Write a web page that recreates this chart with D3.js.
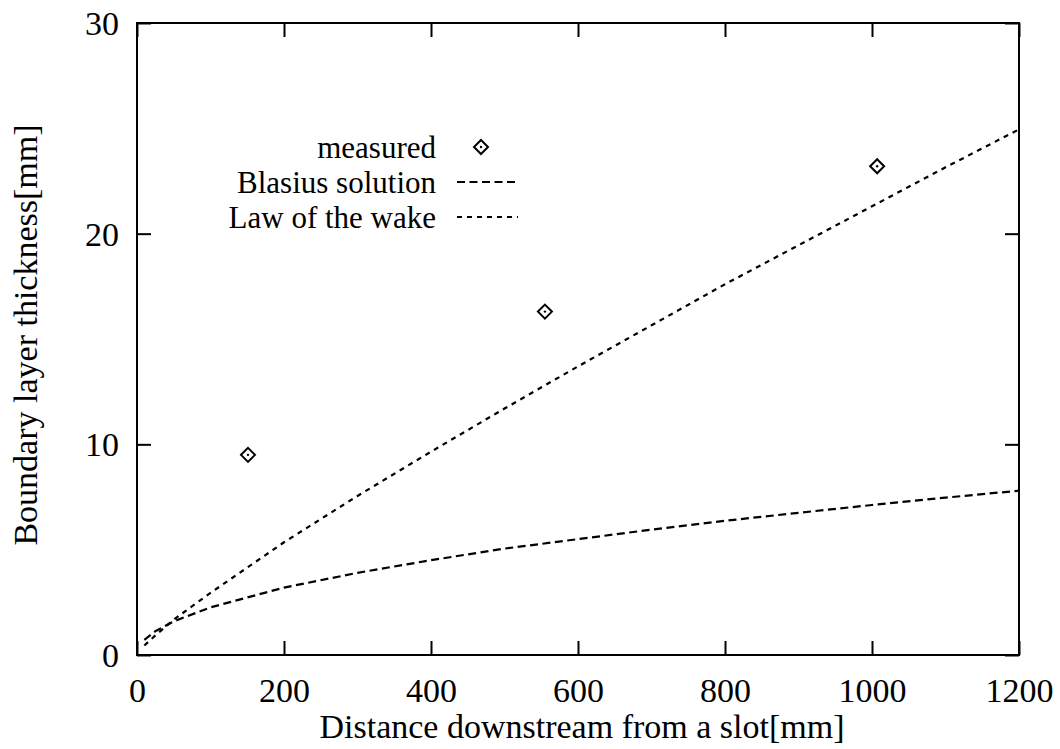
<!DOCTYPE html>
<html>
<head>
<meta charset="utf-8">
<script src="https://cdn.jsdelivr.net/npm/d3@7"></script>
<style>
  html, body { margin: 0; padding: 0; background: #fff; }
  svg, svg text { font-family: "Liberation Serif", "DejaVu Serif", serif !important; }
  svg text { fill: #000; }
</style>
</head>
<body>
<svg id="chart" width="1060" height="749"></svg>
<script>
// ---- data ----
const xTicks = [0, 200, 400, 600, 800, 1000, 1200];
const yTicks = [0, 10, 20, 30];

const measuredX = [151, 555, 1007];
const measuredY = [9.5, 16.3, 23.2];

const blasiusX = [10, 25, 50, 100, 200, 300, 400, 500, 600, 700, 800, 900, 1000, 1100, 1200];
const blasiusY = [0.72, 1.13, 1.6, 2.26, 3.2, 3.9, 4.5, 5.05, 5.5, 5.95, 6.37, 6.75, 7.12, 7.47, 7.8];

const wakeX = [10, 25, 50, 100, 200, 300, 400, 500, 600, 700, 800, 900, 1000, 1100, 1200];
const wakeY = [0.45, 0.93, 1.68, 2.95, 5.35, 7.55, 9.65, 11.7, 13.7, 15.65, 17.6, 19.45, 21.3, 23.15, 24.95];

const legendLabels = ["measured", "Blasius solution", "Law of the wake"];
const xTitle = "Distance downstream from a slot[mm]";
const yTitle = "Boundary layer thickness[mm]";

// ---- layout ----
const FONT = "'Liberation Serif', 'DejaVu Serif', serif";
const L = 137, R = 1019, T = 23, B = 655;
const svg = d3.select("#chart").style("font-family", FONT);
const x = d3.scaleLinear().domain([0, 1200]).range([L, R]);
const y = d3.scaleLinear().domain([0, 30]).range([B, T]);
const FS = 34, LFS = 31, TICK = 14;

// frame
svg.append("rect").attr("x", L).attr("y", T).attr("width", R - L).attr("height", B - T)
  .attr("fill", "none").attr("stroke", "#000").attr("stroke-width", 2);

// axes with inward ticks on all four sides
const axB = d3.axisBottom(x).tickValues(xTicks).tickSize(-TICK).tickFormat(d3.format("d"));
const axT = d3.axisTop(x).tickValues(xTicks).tickSize(-TICK).tickFormat("");
const axL = d3.axisLeft(y).tickValues(yTicks).tickSize(-TICK).tickFormat(d3.format("d"));
const axR = d3.axisRight(y).tickValues(yTicks).tickSize(-TICK).tickFormat("");

function styleAxis(g) {
  g.attr("font-family", null).attr("font-size", null);
  g.select(".domain").remove();
  g.selectAll(".tick line").attr("stroke", "#000").attr("stroke-width", 2);
  g.selectAll(".tick text").style("font-family", FONT).attr("font-size", FS).attr("fill", "#000");
}
svg.append("g").attr("transform", `translate(0,${B})`).call(axB).call(styleAxis)
  .selectAll(".tick text").attr("dy", null).attr("y", 47);
svg.append("g").attr("transform", `translate(0,${T})`).call(axT).call(styleAxis);
svg.append("g").attr("transform", `translate(${L},0)`).call(axL).call(styleAxis)
  .selectAll(".tick text").attr("x", -18).attr("dy", "0.34em");
svg.append("g").attr("transform", `translate(${R},0)`).call(axR).call(styleAxis);

// axis titles
svg.append("text").attr("x", (L + R) / 2 + 4).attr("y", 738).style("font-family", FONT)
  .attr("text-anchor", "middle").attr("font-size", FS).text(xTitle);
svg.append("text").attr("transform", `translate(37,${(T + B) / 2 - 4}) rotate(-90)`).style("font-family", FONT)
  .attr("text-anchor", "middle").attr("font-size", FS).text(yTitle);

// curves
const line = d3.line().x(d => x(d[0])).y(d => y(d[1]));
const blasius = blasiusX.map((v, i) => [v, blasiusY[i]]);
const wake = wakeX.map((v, i) => [v, wakeY[i]]);
svg.append("path").datum(blasius).attr("d", line).attr("fill", "none")
  .attr("stroke", "#000").attr("stroke-width", 2.2).attr("stroke-dasharray", "8,4.5");
svg.append("path").datum(wake).attr("d", line).attr("fill", "none")
  .attr("stroke", "#000").attr("stroke-width", 2.2).attr("stroke-dasharray", "5,5");

// diamond marker
function diamond(g, cx, cy) {
  const s = 7;
  g.append("path").attr("d", `M${cx},${cy - s}L${cx + s},${cy}L${cx},${cy + s}L${cx - s},${cy}Z`)
    .attr("fill", "none").attr("stroke", "#000").attr("stroke-width", 2);
  g.append("circle").attr("cx", cx).attr("cy", cy).attr("r", 1.2).attr("fill", "#000");
}
const pts = svg.append("g");
measuredX.forEach((v, i) => diamond(pts, x(v), y(measuredY[i])));

// legend
const legRight = 436, legRows = [147, 182, 217], sx0 = 457, sx1 = 518;
legendLabels.forEach((t, i) => {
  svg.append("text").attr("x", legRight).attr("y", legRows[i]).attr("dy", "0.34em").style("font-family", FONT)
    .attr("text-anchor", "end").attr("font-size", LFS).text(t);
});
diamond(svg, 481, legRows[0]);
svg.append("line").attr("x1", sx0).attr("x2", sx1).attr("y1", legRows[1]).attr("y2", legRows[1])
  .attr("stroke", "#000").attr("stroke-width", 2.2).attr("stroke-dasharray", "8,4.5");
svg.append("line").attr("x1", sx0).attr("x2", sx1).attr("y1", legRows[2]).attr("y2", legRows[2])
  .attr("stroke", "#000").attr("stroke-width", 2.2).attr("stroke-dasharray", "5,5");
</script>
</body>
</html>
